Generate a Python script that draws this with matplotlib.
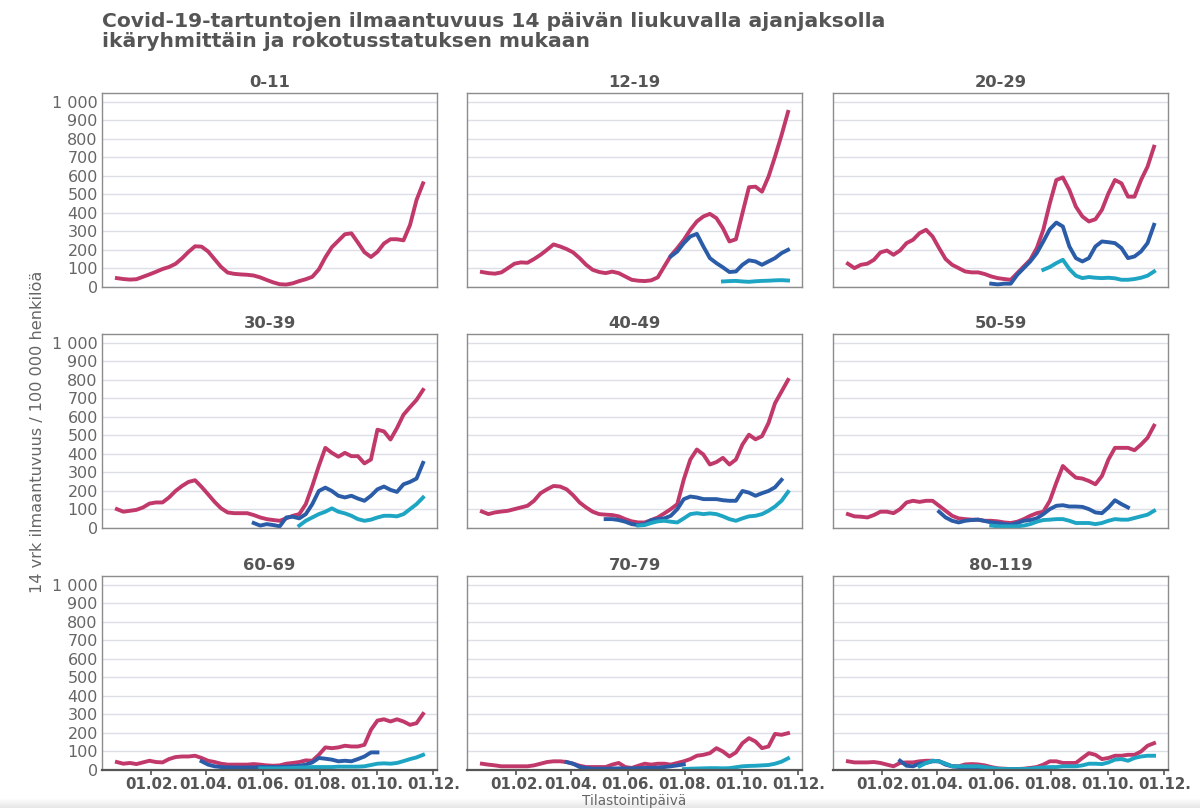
import matplotlib
matplotlib.use("Agg")
import matplotlib.pyplot as plt
import matplotlib.dates as mdates
import numpy as np
import pandas as pd

nan = np.nan

# weekly sample dates
dates = pd.date_range("2020-12-26", periods=48, freq="7D")

age_groups = ["0-11", "12-19", "20-29", "30-39", "40-49",
              "50-59", "60-69", "70-79", "80-119"]

# red = unvaccinated, blue = one dose, teal = two doses
unvac_0_11 = [48, 43, 40, 42, 55, 68, 82, 97, 108, 125, 155, 190, 220, 218, 192, 150,
              108, 78, 71, 68, 66, 62, 52, 38, 25, 15, 13, 20, 32, 42, 55, 95,
              160, 215, 250, 285, 290, 240, 188, 162, 190, 235, 258, 258, 252, 335, 470, 560]
dose1_0_11 = [nan] * 48
dose2_0_11 = [nan] * 48

unvac_12_19 = [81, 75, 72, 79, 102, 126, 133, 131, 151, 174, 201, 230, 219, 205, 187, 156,
               120, 93, 81, 75, 83, 75, 57, 39, 34, 32, 36, 52, 111, 169, 210, 255,
               309, 354, 381, 395, 372, 318, 246, 258, 399, 539, 542, 515, 596, 704, 820, 946]
dose1_12_19 = [nan] * 29 + [165, 192, 237, 273, 287, 219, 156, 129, 106, 81, 84, 120, 144,
                            138, 120, 138, 156, 183, 201]
dose2_12_19 = [nan] * 37 + [30, 32, 33, 30, 28, 31, 33, 34, 36, 37, 35]

unvac_20_29 = [126, 102, 120, 126, 147, 187, 197, 174, 197, 237, 255, 291, 309, 273, 210, 151,
               120, 102, 84, 79, 79, 70, 57, 48, 43, 39, 75, 111, 147, 210, 309, 452,
               578, 592, 524, 434, 381, 354, 366, 417, 506, 578, 560, 488, 488, 578, 650, 758]
dose1_20_29 = [nan] * 22 + [18, 14, 18, 18, 66, 102, 138, 183, 246, 312, 348, 327, 219, 156,
                            138, 156, 219, 246, 242, 237, 210, 156, 165, 192, 237, 336]
dose2_20_29 = [nan] * 30 + [93, 108, 129, 147, 97, 61, 48, 54, 50, 48, 50, 47, 39, 39,
                            43, 50, 61, 84]

unvac_30_39 = [102, 88, 93, 98, 111, 132, 138, 138, 165, 200, 227, 249, 258, 222, 182, 141,
               106, 84, 80, 80, 80, 70, 57, 48, 43, 39, 52, 66, 75, 129, 227, 335,
               433, 406, 385, 406, 388, 388, 349, 370, 531, 522, 478, 540, 612, 653, 692, 746]
dose1_30_39 = [nan] * 21 + [27, 13, 21, 16, 9, 57, 61, 52, 75, 129, 200, 218, 200, 174, 165,
                            174, 159, 147, 174, 209, 224, 206, 195, 236, 249, 267, 352]
dose2_30_39 = [nan] * 28 + [13, 39, 57, 75, 88, 106, 88, 79, 66, 48, 39, 45, 57, 66, 66,
                            63, 75, 102, 129, 165]

unvac_40_49 = [89, 75, 84, 89, 93, 102, 111, 120, 147, 188, 209, 227, 224, 209, 177, 138,
               111, 88, 75, 72, 70, 63, 48, 36, 30, 30, 43, 57, 79, 102, 129, 263,
               370, 424, 397, 343, 356, 379, 343, 370, 451, 504, 479, 496, 567, 674, 737, 800]
dose1_40_49 = [nan] * 19 + [48, 48, 43, 34, 21, 16, 21, 43, 48, 52, 66, 102, 156, 170, 165,
                            156, 156, 156, 150, 147, 147, 200, 191, 174, 188, 200, 220, 260, nan]
dose2_40_49 = [nan] * 24 + [13, 16, 27, 36, 39, 34, 30, 52, 75, 80, 75, 79, 75, 63, 48,
                            39, 52, 63, 66, 75, 93, 116, 147, 195]

unvac_50_59 = [75, 63, 61, 57, 70, 88, 88, 80, 102, 138, 147, 141, 147, 147, 120, 93,
               66, 52, 48, 45, 45, 39, 39, 36, 30, 27, 34, 48, 66, 80, 88, 147,
               245, 335, 302, 272, 267, 254, 236, 281, 370, 433, 433, 433, 420, 451, 487, 553]
dose1_50_59 = [nan] * 14 + [88, 57, 39, 30, 39, 43, 45, 38, 30, 27, 21, 18, 27, 39, 43,
                            52, 75, 102, 120, 123, 116, 116, 114, 102, 84, 80, 111, 150,
                            129, 111] + [nan] * 4
dose2_50_59 = [nan] * 22 + [13, 9, 9, 9, 9, 13, 21, 34, 43, 45, 48, 48, 39, 27, 27, 27,
                            21, 27, 39, 48, 45, 45, 54, 63, 72, 93]

unvac_60_69 = [43, 34, 38, 32, 41, 50, 43, 41, 59, 70, 73, 73, 77, 65, 50, 43,
               34, 29, 29, 29, 29, 32, 29, 25, 23, 25, 34, 38, 43, 52, 50, 82,
               122, 118, 122, 131, 127, 127, 136, 217, 267, 274, 262, 274, 262, 244, 253, 303]
dose1_60_69 = [nan] * 13 + [47, 29, 20, 16, 14, 14, 13, 14, 14, 16, 16, 16, 16, 18, 20,
                            23, 29, 41, 65, 61, 56, 47, 50, 47, 59, 73, 95, 95] + [nan] * 7
dose2_60_69 = [nan] * 22 + [9, 9, 9, 9, 10, 11, 13, 14, 16, 16, 16, 16, 18, 18, 18, 18,
                            20, 27, 34, 36, 34, 38, 48, 59, 68, 82]

unvac_70_79 = [34, 29, 25, 20, 20, 20, 20, 20, 25, 34, 43, 47, 47, 43, 34, 23,
               16, 16, 16, 16, 29, 38, 16, 11, 23, 34, 29, 34, 34, 29, 38, 47,
               59, 77, 82, 91, 118, 100, 73, 95, 145, 172, 154, 118, 127, 195, 190, 199]
dose1_70_79 = [nan] * 13 + [43, 34, 16, 11, 7, 7, 7, 8, 9, 8, 9, 10, 11, 12, 13, 16,
                            20, 25, 30] + [nan] * 16
dose2_70_79 = [nan] * 31 + [5, 7, 8, 9, 10, 10, 9, 10, 15, 20, 22, 23, 25, 27, 34, 45, 63]

unvac_80_119 = [47, 41, 41, 41, 43, 38, 29, 20, 38, 41, 41, 47, 50, 50, 47, 34,
                20, 20, 30, 32, 30, 25, 16, 9, 7, 5, 5, 7, 11, 16, 29, 47,
                47, 38, 38, 38, 65, 91, 82, 59, 65, 77, 77, 82, 82, 100, 131, 145]
dose1_80_119 = [nan] * 8 + [50, 23, 20, 34, 38, 47, 47, 29, 20, 16, 14, 12, 10, 9, 7, 5,
                            4, 4, 4, 5, 7, 9, 11] + [nan] * 17
dose2_80_119 = [nan] * 11 + [20, 38, 50, 47, 34, 20, 20, 20, 20, 20, 16, 11, 7, 5, 5, 5,
                             5, 7, 11, 14, 16, 16, 20, 20, 20, 25, 34, 34, 32, 41, 56, 59,
                             50, 65, 73, 77, 77]

unvac = [unvac_0_11, unvac_12_19, unvac_20_29, unvac_30_39, unvac_40_49,
         unvac_50_59, unvac_60_69, unvac_70_79, unvac_80_119]
dose1 = [dose1_0_11, dose1_12_19, dose1_20_29, dose1_30_39, dose1_40_49,
         dose1_50_59, dose1_60_69, dose1_70_79, dose1_80_119]
dose2 = [dose2_0_11, dose2_12_19, dose2_20_29, dose2_30_39, dose2_40_49,
         dose2_50_59, dose2_60_69, dose2_70_79, dose2_80_119]

red, blue, teal = "#c1396b", "#2a5ca8", "#1fa5c4"
txt = "#555555"
W, H = 1200, 808

fig = plt.figure(figsize=(12, 8.08), dpi=100)

lefts = [102, 467, 833]
tops = [93, 334, 576]
pw, ph = 335, 194

for k, g in enumerate(age_groups):
    r, c = divmod(k, 3)
    ax = fig.add_axes([lefts[c] / W, 1 - (tops[r] + ph) / H, pw / W, ph / H])
    ax.plot(dates, unvac[k], color=red, lw=2.8)
    ax.plot(dates, dose1[k], color=blue, lw=2.8)
    ax.plot(dates, dose2[k], color=teal, lw=2.8)

    ax.set_xlim(pd.Timestamp("2020-12-10"), pd.Timestamp("2021-12-05"))
    ax.set_ylim(0, 1048)
    ax.set_yticks(range(0, 1001, 100))
    ax.yaxis.grid(True, color="#dcdfe6", lw=1)
    ax.set_axisbelow(True)
    ax.xaxis.set_major_locator(mdates.MonthLocator(bymonth=[2, 4, 6, 8, 10, 12]))
    ax.xaxis.set_major_formatter(mdates.DateFormatter("%d.%m."))
    for s in ax.spines.values():
        s.set_color("#8c8c8c")
        s.set_linewidth(1)
    ax.tick_params(axis="y", length=0, labelsize=11.5, labelcolor="#666666", pad=3)
    if c == 0:
        ax.set_yticklabels([f"{v:,}".replace(",", " ") for v in range(0, 1001, 100)])
    else:
        ax.set_yticklabels([])
    if r == 2:
        ax.spines["bottom"].set_color("#555555")
        ax.spines["bottom"].set_linewidth(1.6)
        ax.tick_params(axis="x", length=3.5, width=1.2, color="#555555",
                       labelsize=10.8, labelcolor=txt, pad=1.5)
        for lab in ax.get_xticklabels():
            lab.set_fontweight("bold")
    else:
        ax.tick_params(axis="x", length=0, labelbottom=False)
    ax.set_title(g, fontsize=11.8, fontweight="bold", color=txt, pad=4)

fig.text(102 / W, 1 - 12 / H,
         "Covid-19-tartuntojen ilmaantuvuus 14 päivän liukuvalla ajanjaksolla\n"
         "ikäryhmittäin ja rokotusstatuksen mukaan",
         ha="left", va="top", fontsize=14.6, fontweight="bold", color=txt,
         linespacing=1.08)
fig.text(38 / W, 1 - 432 / H, "14 vrk ilmaantuvuus / 100 000 henkilöä",
         rotation=90, ha="center", va="center", fontsize=11.6, color="#666666")
fig.text(634 / W, 0.5 / H, "Tilastointipäivä", ha="center", va="bottom",
         fontsize=9.8, color="#666666")

# light grey band at the bottom edge of the screenshot
band = fig.add_axes([0, 0, 1, 10 / H], zorder=-1)
grad = np.linspace(1.0, 0.9, 20).reshape(-1, 1)
band.imshow(np.repeat(grad, 2, axis=1), cmap="gray", vmin=0, vmax=1, aspect="auto")
band.axis("off")

fig.savefig("out.png", dpi=100)
